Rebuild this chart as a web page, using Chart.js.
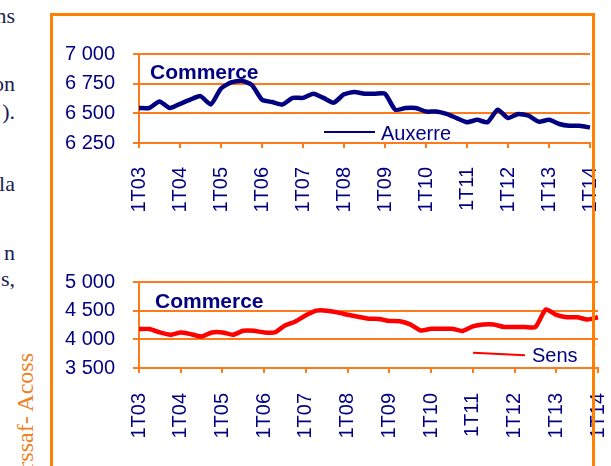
<!DOCTYPE html>
<html>
<head>
<meta charset="utf-8">
<script src="https://cdn.jsdelivr.net/npm/chart.js@4.4.1/dist/chart.umd.min.js"></script>
<style>
  body { margin: 0; width: 611px; height: 466px; overflow: hidden; background: #fff; position: relative; }
  .frag { position: absolute; right: 596px; font-family: "Liberation Serif", serif; font-size: 22px; line-height: 22px; color: #1b1b55; white-space: nowrap; }
  .side { position: absolute; left: 13px; top: 553px; width: 200px; text-align: right; transform-origin: 0 0; transform: rotate(-90deg);
          font-family: "Liberation Serif", serif; font-size: 24px; line-height: 24px; color: #ee8122; white-space: nowrap; }
  .box { position: absolute; left: 50px; top: 13px; width: 539px; height: 480px; border: 3px solid #ff8000; border-bottom: none; z-index: 5; }
  canvas { position: absolute; }
  .lbl { position: absolute; font-family: "Liberation Sans", Arial, sans-serif; color: #000080; white-space: nowrap; z-index: 3; }
  .title { font-size: 21px; line-height: 21px; font-weight: bold; }
  .leg { font-size: 20px; line-height: 20px; }
  .legline { position: absolute; height: 2px; z-index: 3; }
</style>
</head>
<body>
<div class="frag" style="top:5px">ns</div>
<div class="frag" style="top:73px">on</div>
<div class="frag" style="top:101px">).</div>
<div class="frag" style="top:173px">la</div>
<div class="frag" style="top:242px">n</div>
<div class="frag" style="top:268px">s,</div>
<div class="side">Urssaf- Acoss</div>

<canvas id="auxerre" width="573" height="206" style="left:60px; top:24px"></canvas>
<canvas id="sens" width="582" height="203" style="left:60px; top:252px"></canvas>

<div class="lbl title" style="left:150px; top:61px">Commerce</div>
<div class="legline" style="left:324px; top:131px; width:51px; background:#000080"></div>
<div class="lbl leg" style="left:381px; top:123px">Auxerre</div>

<div class="lbl title" style="left:155px; top:290px">Commerce</div>
<div class="legline" style="left:473px; top:353px; width:52px; background:#ff0000; transform:rotate(2.8deg)"></div>
<div class="lbl leg" style="left:532px; top:345px">Sens</div>

<div class="box"></div>

<script>
const quarters = [
  '1T03', '2T03', '3T03', '4T03', '1T04', '2T04', '3T04', '4T04',
  '1T05', '2T05', '3T05', '4T05', '1T06', '2T06', '3T06', '4T06',
  '1T07', '2T07', '3T07', '4T07', '1T08', '2T08', '3T08', '4T08',
  '1T09', '2T09', '3T09', '4T09', '1T10', '2T10', '3T10', '4T10',
  '1T11', '2T11', '3T11', '4T11', '1T12', '2T12', '3T12', '4T12',
  '1T13', '2T13', '3T13', '4T13', '1T14'
];

const auxerre = [
  6545, 6545, 6600, 6545, 6580, 6615, 6645, 6575,
  6710, 6760, 6775, 6740, 6615, 6595, 6575, 6630,
  6630, 6665, 6630, 6590, 6660, 6680, 6665, 6665,
  6665, 6530, 6545, 6545, 6515, 6515, 6495, 6460,
  6425, 6445, 6425, 6530, 6460, 6495, 6480, 6430,
  6445, 6410, 6395, 6395, 6380
];

const sens = [
  4180, 4180, 4120, 4080, 4120, 4090, 4050, 4120,
  4120, 4080, 4150, 4150, 4120, 4120, 4240, 4310,
  4420, 4500, 4500, 4470, 4430, 4395, 4360, 4355,
  4320, 4315, 4260, 4155, 4185, 4185, 4185, 4145,
  4225, 4260, 4260, 4215, 4215, 4215, 4215, 4520,
  4425, 4385, 4385, 4345, 4385
];

const auxerreTicks = [6250, 6500, 6750, 7000];
const sensTicks = [3500, 4000, 4500, 5000];

const ORANGE = '#ff7a1a';
const NAVY = '#000080';

const fmt = (v) => String(v).replace(/\B(?=(\d{3})+$)/, ' ');

// the label paddings of the scales set the plot margins, so layout padding stays 0
const makeChart = (id, name, values, ticks, color, xPad) => {
  const step = ticks[1] - ticks[0];
  return new Chart(document.getElementById(id), {
    type: 'line',
    data: {
      labels: quarters,
      datasets: [{
        label: name,
        data: values,
        borderColor: color,
        borderWidth: 4.5,
        pointRadius: 0,
        tension: 0.2,
        fill: false,
      }],
    },
    options: {
      responsive: false,
      animation: false,
      layout: { padding: 0 },
      plugins: { legend: { display: false }, tooltip: { enabled: false } },
      scales: {
        x: {
          grid: { drawOnChartArea: false, drawTicks: true, tickLength: 5, color: ORANGE, lineWidth: 2 },
          border: { color: ORANGE, width: 2 },
          ticks: {
            autoSkip: false,
            minRotation: 90,
            maxRotation: 90,
            padding: xPad,
            color: NAVY,
            font: { family: 'Liberation Sans', size: 20 },
            callback: function (val, i) { return i % 4 === 0 ? this.getLabelForValue(val) : null; },
          },
          afterFit: (s) => { s.height = 87; },
        },
        y: {
          min: ticks[0],
          max: ticks[ticks.length - 1],
          grid: { color: ORANGE, lineWidth: 2, tickLength: 6 },
          border: { color: ORANGE, width: 2 },
          ticks: {
            stepSize: step,
            padding: 18,
            color: NAVY,
            font: { family: 'Liberation Sans', size: 20 },
            callback: (v) => fmt(v),
          },
          afterFit: (s) => { s.width = 79; },
        },
      },
    },
  });
};

// Auxerre
makeChart('auxerre', 'Auxerre', auxerre, auxerreTicks, NAVY, 19);

// Sens
makeChart('sens', 'Sens', sens, sensTicks, '#ff0000', 20);
</script>
</body>
</html>
